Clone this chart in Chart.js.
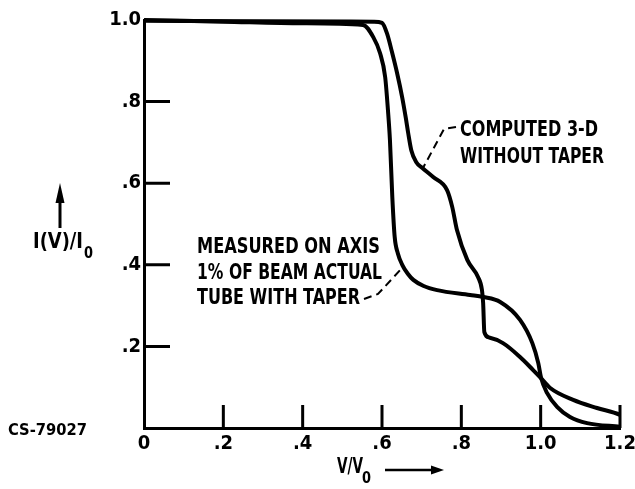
<!DOCTYPE html>
<html>
<head>
<meta charset="utf-8">
<script src="https://cdn.jsdelivr.net/npm/chart.js@4.4.0/dist/chart.umd.min.js"></script>
<style>
  html, body { margin: 0; padding: 0; background: #fff; }
  #wrap { width: 635px; height: 489px; position: relative; }
</style>
</head>
<body>
<div id="wrap"><canvas id="chart"></canvas></div>
<script>
// ─── Data ─────────────────────────────────────────────────────────────
const xTicks = [0, 0.2, 0.4, 0.6, 0.8, 1.0, 1.2];
const yTicks = [0.2, 0.4, 0.6, 0.8, 1.0];

// computed 3-D without taper
const computedV = [0, 0.3, 0.58, 0.600, 0.613, 0.625, 0.638, 0.651, 0.660, 0.666, 0.674, 0.686, 0.701, 0.729, 0.764, 0.777, 0.789, 0.815, 0.842, 0.852, 0.855, 0.858, 0.870, 0.905, 0.948, 0.981, 1.0, 1.024, 1.082, 1.142, 1.2, 1.238];
const computedI = [0.998, 0.997, 0.996, 0.993, 0.966, 0.922, 0.870, 0.810, 0.760, 0.723, 0.680, 0.652, 0.638, 0.615, 0.583, 0.542, 0.485, 0.412, 0.370, 0.338, 0.306, 0.235, 0.222, 0.208, 0.174, 0.142, 0.123, 0.098, 0.069, 0.049, 0.032, 0.007];

// measured on axis, actual tube with taper
const measuredV = [0, 0.2, 0.4, 0.552, 0.578, 0.595, 0.608, 0.615, 0.620, 0.626, 0.632, 0.640, 0.651, 0.665, 0.679, 0.705, 0.739, 0.822, 0.855, 0.898, 0.948, 0.979, 0.994, 1.001, 1.016, 1.042, 1.074, 1.117, 1.2];
const measuredI = [1.0, 0.996, 0.992, 0.988, 0.958, 0.919, 0.860, 0.779, 0.706, 0.566, 0.468, 0.428, 0.400, 0.378, 0.363, 0.348, 0.338, 0.326, 0.321, 0.309, 0.265, 0.208, 0.159, 0.123, 0.086, 0.051, 0.027, 0.012, 0.003];

const FONT = "'DejaVu Sans Condensed', 'Liberation Sans Narrow', sans-serif";

function fmt(v) {
  const r = Math.round(v * 10) / 10;
  if (r === 0) return '0';
  if (r >= 1) return r.toFixed(1);
  return r.toFixed(1).slice(1);
}

function toPoints(xs, ys) {
  return xs.map((x, i) => ({ x, y: ys[i] }));
}

// draw text squeezed to a given width
function fitText(ctx, text, x, y, w, font) {
  ctx.font = font;
  const m = ctx.measureText(text).width;
  ctx.save();
  ctx.translate(x, y);
  ctx.scale(w / m, 1);
  ctx.fillText(text, 0, 0);
  ctx.restore();
}

// inward tick marks + annotations
const decorations = {
  id: 'decorations',
  afterDraw(chart) {
    const { ctx, scales: { x, y } } = chart;
    const x0 = x.getPixelForValue(0);
    const y0 = y.getPixelForValue(0);
    ctx.save();
    ctx.strokeStyle = '#000';
    ctx.lineWidth = 3;
    ctx.beginPath();
    xTicks.slice(1).forEach(v => {
      const px = x.getPixelForValue(v);
      ctx.moveTo(px, y0);
      ctx.lineTo(px, y0 - 23);
    });
    yTicks.slice(0, -1).forEach(v => {
      const py = y.getPixelForValue(v);
      ctx.moveTo(x0, py);
      ctx.lineTo(x0 + 26, py);
    });
    ctx.stroke();

    // labels
    ctx.fillStyle = '#000';
    ctx.textBaseline = 'middle';
    ctx.textAlign = 'left';
    const lab = 'bold 22px ' + FONT;
    fitText(ctx, 'COMPUTED 3-D', 460, 130, 138, lab);
    fitText(ctx, 'WITHOUT TAPER', 460, 157, 144, lab);
    fitText(ctx, 'MEASURED ON AXIS', 197, 247, 183, lab);
    fitText(ctx, '1% OF BEAM ACTUAL', 197, 273, 185, lab);
    fitText(ctx, 'TUBE WITH TAPER', 197, 298, 163, lab);

    // leaders
    ctx.lineWidth = 2;
    ctx.setLineDash([8, 5]);
    ctx.beginPath();
    ctx.moveTo(456, 127);
    ctx.lineTo(444, 129);
    ctx.lineTo(423, 168);
    ctx.moveTo(364, 299);
    ctx.lineTo(378, 294);
    ctx.lineTo(403, 267);
    ctx.stroke();
    ctx.setLineDash([]);

    // y axis title with arrow
    fitText(ctx, 'I(V)/I', 33, 243, 50, 'bold 21px ' + FONT);
    fitText(ctx, '0', 84, 254, 9, 'bold 15px ' + FONT);
    ctx.lineWidth = 3;
    ctx.beginPath();
    ctx.moveTo(60, 228);
    ctx.lineTo(60, 198);
    ctx.stroke();
    ctx.beginPath();
    ctx.moveTo(60, 183);
    ctx.lineTo(55.5, 203);
    ctx.lineTo(64.5, 203);
    ctx.closePath();
    ctx.fill();

    // x axis title with arrow
    fitText(ctx, 'V/V', 337, 468, 26, 'bold 21px ' + FONT);
    fitText(ctx, '0', 362, 479, 9, 'bold 15px ' + FONT);
    ctx.lineWidth = 2.5;
    ctx.beginPath();
    ctx.moveTo(385, 470);
    ctx.lineTo(432, 470);
    ctx.stroke();
    ctx.beginPath();
    ctx.moveTo(444, 470);
    ctx.lineTo(431, 465.5);
    ctx.lineTo(431, 474.5);
    ctx.closePath();
    ctx.fill();

    // figure id
    fitText(ctx, 'CS-79027', 8, 431, 79, '600 16px ' + FONT);
    ctx.restore();
  }
};

new Chart(document.getElementById('chart'), {
  type: 'line',
  data: {
    datasets: [
      {
        label: 'Computed 3-D without taper',
        data: toPoints(computedV, computedI),
        borderColor: '#000',
        borderWidth: 4,
        pointRadius: 0,
        cubicInterpolationMode: 'monotone',
        clip: false
      },
      {
        label: 'Measured on axis, tube with taper',
        data: toPoints(measuredV, measuredI),
        borderColor: '#000',
        borderWidth: 4,
        pointRadius: 0,
        cubicInterpolationMode: 'monotone',
        clip: false
      }
    ]
  },
  options: {
    responsive: true,
    maintainAspectRatio: false,
    animation: false,
    layout: { padding: { left: 0, right: 15, top: 20, bottom: 0 } },
    plugins: { legend: { display: false }, tooltip: { enabled: false } },
    scales: {
      x: {
        type: 'linear',
        min: 0, max: 1.2,
        afterBuildTicks: s => { s.ticks = xTicks.map(v => ({ value: v })); },
        afterFit: s => { s.height = 61; s.paddingLeft = 0; s.paddingRight = 0; },
        ticks: {
          callback: v => fmt(v),
          color: '#000',
          padding: 4,
          maxRotation: 0,
          font: { family: FONT, size: 20, weight: 'bold' }
        },
        grid: { display: false, drawTicks: false },
        border: { display: true, color: '#000', width: 3 }
      },
      y: {
        type: 'linear',
        min: 0, max: 1.0,
        afterBuildTicks: s => { s.ticks = yTicks.map(v => ({ value: v })); },
        afterFit: s => { s.width = 144; s.paddingTop = 0; s.paddingBottom = 0; },
        ticks: {
          callback: v => fmt(v),
          color: '#000',
          padding: 3,
          font: { family: FONT, size: 20, weight: 'bold' }
        },
        grid: { display: false, drawTicks: false },
        border: { display: true, color: '#000', width: 3 }
      }
    }
  },
  plugins: [decorations]
});
</script>
</body>
</html>
